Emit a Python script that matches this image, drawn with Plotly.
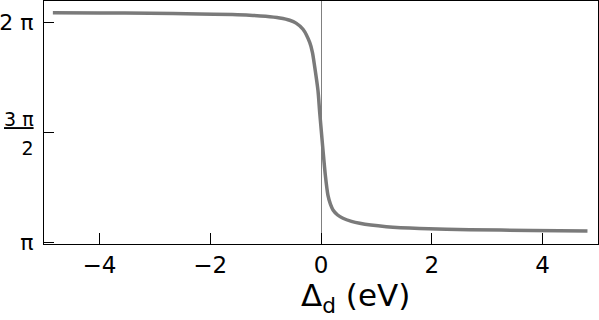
import numpy as np
import plotly.graph_objects as go

# detuning (eV) and phase in units of pi
delta_d = [-4.84, -4.0, -3.09, -2.2, -1.6, -1.29, -1.0, -0.745, -0.565, -0.45, -0.325,
           -0.204, -0.155, -0.114, -0.054, -0.023, 0.036, 0.079, 0.126, 0.17,
           0.217, 0.30, 0.397, 0.55, 0.699, 0.9, 1.18, 1.78, 2.68, 3.8, 4.81]
phase_pi = [2.045, 2.044, 2.043, 2.040, 2.037, 2.034, 2.029, 2.021, 2.011, 1.998, 1.970,
            1.910, 1.865, 1.800, 1.690, 1.590, 1.421, 1.305, 1.215, 1.175,
            1.149, 1.126, 1.111, 1.097, 1.088, 1.080, 1.073, 1.065, 1.059, 1.056, 1.053]

x_ticks = [-4, -2, 0, 2, 4]
x_ticktext = ['\u22124', '\u22122', '0', '2', '4']
y_ticks_pi = [1.0, 1.5, 2.0]
y_ticktext = ['\u03c0', '<span style="font-size:19px"><u>3 \u03c0</u></span><br><span style="font-size:19px">2</span>', '2 \u03c0']

phase = np.array(phase_pi) * np.pi

fig = go.Figure(go.Scatter(
  x=delta_d, y=phase,
  mode='lines',
  line=dict(color='rgb(122,122,122)', width=3.5, shape='spline', smoothing=0.8),
  showlegend=False,
))

fig.update_layout(
  width=599, height=320,
  margin=dict(l=44, r=1, t=1, b=76),
  paper_bgcolor='white', plot_bgcolor='white',
  font=dict(family='DejaVu Sans', size=22, color='black'),
  xaxis=dict(
    range=[-5.0, 5.0], automargin=False,
    tickvals=x_ticks, ticktext=x_ticktext,
    ticks='inside', ticklen=11, tickcolor='black', tickwidth=1,
    showline=True, linecolor='black', linewidth=1, mirror=True,
    showgrid=False,
    zeroline=True, zerolinecolor='rgb(128,128,128)', zerolinewidth=1,
    tickfont=dict(size=23),
    ticklabelstandoff=0,
  ),
  yaxis=dict(
    range=[0.9941 * np.pi, 2.0986 * np.pi], automargin=False,
    tickvals=[v * np.pi for v in y_ticks_pi], ticktext=y_ticktext,
    ticks='inside', ticklen=10, tickcolor='black', tickwidth=1,
    showline=True, linecolor='black', linewidth=1, mirror=True,
    showgrid=False, zeroline=False,
    tickfont=dict(size=22),
    ticklabelstandoff=5,
  ),
  annotations=[dict(
    text='\u0394<sub>d</sub> (eV)', xref='paper', yref='paper',
    x=0.563, y=-0.22, xanchor='center', yanchor='middle',
    showarrow=False, font=dict(size=31),
  )],
)

# page body has a default 8px margin; drop it so the figure sits at the corner
fig.write_html('out.html', config={'displayModeBar': False},
               post_script="document.body.style.margin='0';")
